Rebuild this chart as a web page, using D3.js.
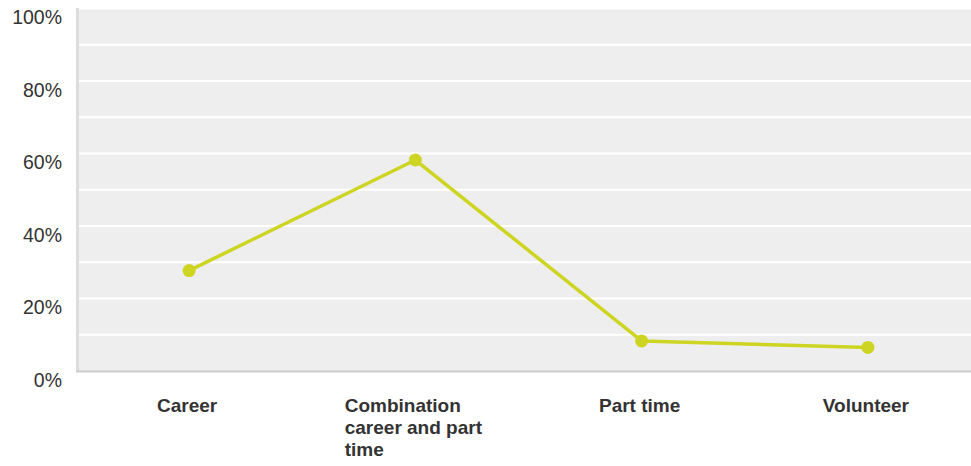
<!DOCTYPE html>
<html>
<head>
<meta charset="utf-8">
<script src="https://cdn.jsdelivr.net/npm/d3@7"></script>
<style>
  html, body { margin: 0; padding: 0; background: #ffffff; }
  svg { display: block; }
</style>
</head>
<body>
<svg id="chart" width="971" height="466"></svg>
<script>
// Employment type shares
const categories = ["Career", "Combination career and part time", "Part time", "Volunteer"];
const shares = [27.7, 58.2, 8.3, 6.5];
const yTicks = [0, 20, 40, 60, 80, 100];
const yGrid = [10, 20, 30, 40, 50, 60, 70, 80, 90, 100];

const svg = d3.select("#chart");
const plot = { left: 76, right: 981, top: 8.5, bottom: 371 };

const x = d3.scaleBand().domain(categories).range([plot.left, plot.right]);
const y = d3.scaleLinear().domain([0, 100]).range([plot.bottom, plot.top]);

// plot background
svg.append("rect")
  .attr("x", plot.left).attr("y", plot.top - 0.5)
  .attr("width", plot.right - plot.left)
  .attr("height", plot.bottom - plot.top + 0.5)
  .attr("fill", "#eeeeee");

// horizontal grid lines
svg.append("g").selectAll("line").data(yGrid).join("line")
  .attr("x1", plot.left).attr("x2", plot.right)
  .attr("y1", d => y(d)).attr("y2", d => y(d))
  .attr("stroke", "#ffffff").attr("stroke-width", 2);

// axis lines
svg.append("line")
  .attr("x1", plot.left + 1.5).attr("x2", plot.left + 1.5)
  .attr("y1", plot.top - 0.5).attr("y2", plot.bottom)
  .attr("stroke", "#dddddd").attr("stroke-width", 3);
svg.append("line")
  .attr("x1", plot.left).attr("x2", plot.right)
  .attr("y1", plot.bottom + 0.5).attr("y2", plot.bottom + 0.5)
  .attr("stroke", "#cccccc").attr("stroke-width", 2);

// y axis labels
const yAxis = d3.axisLeft(y).tickValues(yTicks).tickFormat(d => d + "%").tickSize(0).tickPadding(0);
const yg = svg.append("g").attr("transform", `translate(62,9)`).call(yAxis);
yg.select(".domain").remove();
yg.selectAll("text")
  .attr("fill", "#333333")
  .style("font-family", "'Liberation Sans', Arial, sans-serif")
  .style("font-size", "19.5px");

// x axis labels, wrapped and left-aligned within a centred block
const xg = svg.append("g");
const lineH = 22;
categories.forEach(cat => {
  const cx = x(cat) + x.bandwidth() / 2;
  const words = cat.split(" ");
  const t = xg.append("text")
    .attr("fill", "#333333")
    .style("font-family", "'Liberation Sans', Arial, sans-serif")
    .style("font-size", "19px")
    .style("font-weight", "bold");
  const maxW = 150;
  let lines = [];
  let cur = [];
  const probe = t.append("tspan");
  words.forEach(w => {
    const test = cur.concat([w]).join(" ");
    probe.text(test);
    if (probe.node().getComputedTextLength() > maxW && cur.length) {
      lines.push(cur.join(" "));
      cur = [w];
    } else {
      cur.push(w);
    }
  });
  lines.push(cur.join(" "));
  probe.remove();
  const spans = lines.map((ln, i) => t.append("tspan")
    .attr("y", 412 + i * lineH)
    .text(ln));
  const widest = d3.max(spans, s => s.node().getComputedTextLength());
  spans.forEach(s => s.attr("x", cx - widest / 2 - 2));
});

// series line and markers
const color = "#cdd522";
const line = d3.line()
  .x((d, i) => x(categories[i]) + x.bandwidth() / 2)
  .y(d => y(d));
svg.append("path")
  .datum(shares)
  .attr("d", line)
  .attr("fill", "none")
  .attr("stroke", color)
  .attr("stroke-width", 3.5)
  .attr("stroke-linejoin", "round");
svg.append("g").selectAll("circle").data(shares).join("circle")
  .attr("cx", (d, i) => x(categories[i]) + x.bandwidth() / 2)
  .attr("cy", d => y(d))
  .attr("r", 6.5)
  .attr("fill", color);
</script>
</body>
</html>
